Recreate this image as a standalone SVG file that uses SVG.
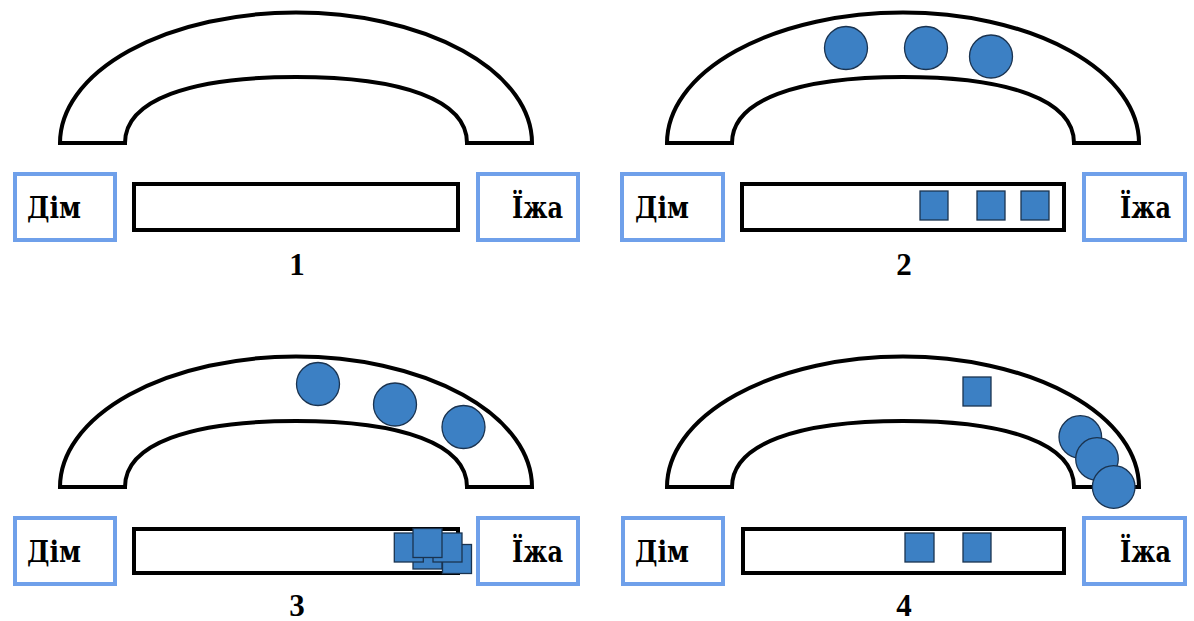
<svg xmlns="http://www.w3.org/2000/svg" width="1194" height="621" viewBox="0 0 1194 621">
  <style>
    .arch { fill: #ffffff; stroke: #000000; stroke-width: 4; stroke-linejoin: miter; }
    .bar { fill: #ffffff; stroke: #000000; stroke-width: 4; }
    .place { fill: #ffffff; stroke: #6fa0ea; stroke-width: 4; }
    .txt { font-family: "DejaVu Serif", "Liberation Serif", serif; font-weight: bold; font-size: 29px; fill: #000000; }
    .num { font-family: "Liberation Serif", "Times New Roman", serif; font-weight: bold; font-size: 31px; fill: #000000; text-anchor: middle; }
    .ball { fill: #3c80c4; stroke: #1a3350; stroke-width: 1.3; }
    .sq { fill: #3c80c4; stroke: #1a3350; stroke-width: 1.3; }
  </style>
  <defs>
    <path id="archShape" d="M60,143 A236,130.5 0 0 1 532,143 L467,143 C467,100 402,77 296,77 C190,77 125,100 125,143 Z"/>
  </defs>
  <rect x="0" y="0" width="1194" height="621" fill="#ffffff"/>

  <!-- Panel 1 -->
  <g id="panel1">
    <g id="p1-arch"><use href="#archShape" class="arch"/></g>
    <g id="p1-home"><rect class="place" x="15" y="174" width="100" height="66"/><text class="txt" x="27" y="218" textLength="54" lengthAdjust="spacingAndGlyphs">Дім</text></g>
    <g id="p1-bar"><rect class="bar" x="134" y="184" width="324" height="46"/></g>
    <g id="p1-food"><rect class="place" x="478" y="174" width="100" height="66"/><text class="txt" x="512" y="218" textLength="51" lengthAdjust="spacingAndGlyphs">Їжа</text></g>
    <g id="p1-label"><text class="num" x="297" y="275">1</text></g>
  </g>

  <!-- Panel 2 -->
  <g id="panel2">
    <g id="p2-arch"><use href="#archShape" class="arch" transform="translate(607,0)"/></g>
    <g id="p2-home"><rect class="place" x="622" y="174" width="101" height="66"/><text class="txt" x="635" y="218" textLength="54" lengthAdjust="spacingAndGlyphs">Дім</text></g>
    <g id="p2-bar"><rect class="bar" x="742" y="184" width="322" height="46"/></g>
    <g id="p2-food"><rect class="place" x="1084" y="174" width="101" height="66"/><text class="txt" x="1120" y="218" textLength="51" lengthAdjust="spacingAndGlyphs">Їжа</text></g>
    <g id="p2-balls">
      <circle class="ball" cx="846" cy="48" r="21.5"/>
      <circle class="ball" cx="926" cy="48" r="21.5"/>
      <circle class="ball" cx="991" cy="56.5" r="21.5"/>
    </g>
    <g id="p2-squares">
      <rect class="sq" x="920" y="191" width="28" height="29"/>
      <rect class="sq" x="977" y="191" width="28" height="29"/>
      <rect class="sq" x="1021" y="191" width="28" height="29"/>
    </g>
    <g id="p2-label"><text class="num" x="904" y="275">2</text></g>
  </g>

  <!-- Panel 3 -->
  <g id="panel3">
    <g id="p3-arch"><use href="#archShape" class="arch" transform="translate(0,344)"/></g>
    <g id="p3-home"><rect class="place" x="15" y="518" width="100" height="66"/><text class="txt" x="27" y="562" textLength="54" lengthAdjust="spacingAndGlyphs">Дім</text></g>
    <g id="p3-bar"><rect class="bar" x="134" y="529" width="324" height="44"/></g>
    <g id="p3-food"><rect class="place" x="478" y="518" width="100" height="66"/><text class="txt" x="512" y="562" textLength="51" lengthAdjust="spacingAndGlyphs">Їжа</text></g>
    <g id="p3-balls">
      <circle class="ball" cx="318" cy="384" r="21.5"/>
      <circle class="ball" cx="395" cy="404.5" r="21.5"/>
      <circle class="ball" cx="463.5" cy="427" r="21.5"/>
    </g>
    <g id="p3-squares">
      <rect class="sq" x="413" y="540" width="29" height="29"/>
      <rect class="sq" x="442.5" y="544.5" width="29" height="29"/>
      <rect class="sq" x="394.3" y="533" width="29" height="29"/>
      <rect class="sq" x="433" y="533" width="29" height="29"/>
      <rect class="sq" x="413" y="528.5" width="29" height="29"/>
    </g>
    <g id="p3-label"><text class="num" x="297" y="616">3</text></g>
  </g>

  <!-- Panel 4 -->
  <g id="panel4">
    <g id="p4-arch"><use href="#archShape" class="arch" transform="translate(607,344)"/></g>
    <g id="p4-home"><rect class="place" x="623" y="518" width="100" height="66"/><text class="txt" x="635" y="562" textLength="54" lengthAdjust="spacingAndGlyphs">Дім</text></g>
    <g id="p4-bar"><rect class="bar" x="743" y="529" width="321" height="44"/></g>
    <g id="p4-food"><rect class="place" x="1084" y="518" width="101" height="66"/><text class="txt" x="1120" y="562" textLength="51" lengthAdjust="spacingAndGlyphs">Їжа</text></g>
    <g id="p4-square-arch"><rect class="sq" x="963" y="377" width="28" height="29"/></g>
    <g id="p4-balls">
      <circle class="ball" cx="1080.3" cy="437" r="21.3"/>
      <circle class="ball" cx="1097" cy="459" r="21.3"/>
      <circle class="ball" cx="1113.7" cy="487" r="21.3"/>
    </g>
    <g id="p4-squares">
      <rect class="sq" x="905" y="533" width="29" height="29"/>
      <rect class="sq" x="963" y="533" width="28" height="29"/>
    </g>
    <g id="p4-label"><text class="num" x="904" y="616">4</text></g>
  </g>
</svg>
